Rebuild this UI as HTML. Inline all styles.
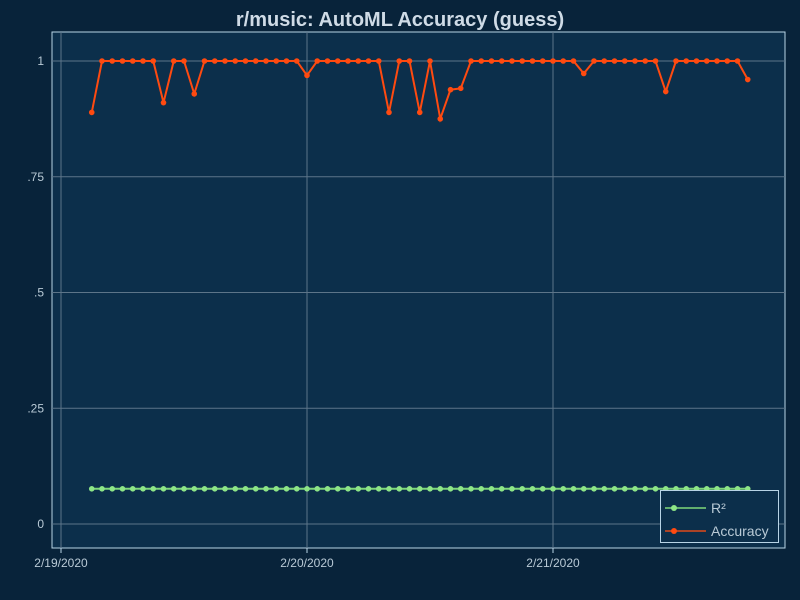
<!DOCTYPE html>
<html><head><meta charset="utf-8"><style>
body{margin:0;background:#08233a;}
svg{display:block;font-family:"Liberation Sans","DejaVu Sans",sans-serif;}
</style></head><body>
<svg id="c" width="800" height="600">
<rect width="800" height="600" fill="#08233a"/>
<text x="400" y="26" text-anchor="middle" font-size="20" font-weight="bold" fill="#cfdbe6">r/music: AutoML Accuracy (guess)</text>
<rect x="52" y="32" width="733" height="516" fill="#0c2f4b" stroke="#b8d4e6" stroke-width="1"/>
<g id="grid"></g><g id="series"></g>
<g>
<rect x="660.5" y="490.5" width="118" height="52" fill="#0c2f4b" stroke="#b8d4e6"/>
<line x1="665" y1="508" x2="706" y2="508" stroke="#7fd87a" stroke-width="1.5"/>
<circle cx="674" cy="508" r="3" fill="#8ee687"/>
<text x="711" y="513" font-size="14" fill="#b9cad6">R²</text>
<line x1="665" y1="531" x2="706" y2="531" stroke="#e04a1a" stroke-width="1.5"/>
<circle cx="674" cy="531" r="3" fill="#ff4a10"/>
<text x="711" y="536" font-size="14" fill="#b9cad6">Accuracy</text>
</g>
</svg>
<script>
const startHour = 3;
const accuracy = [0.889,1,1,1,1,1,1,0.91,1,1,0.929,1,1,1,1,1,1,1,1,1,1,0.969,1,1,1,1,1,1,1,0.889,1,1,0.889,1,0.875,0.938,0.941,1,1,1,1,1,1,1,1,1,1,1,0.973,1,1,1,1,1,1,1,0.934,1,1,1,1,1,1,1,0.96];
const r2 = accuracy.map(()=>0.076);
const yTicks = [0,0.25,0.5,0.75,1];
const yTickLabels = ["0",".25",".5",".75","1"];
const xTickDays = [0,1,2];
const xTickLabels = ["2/19/2020","2/20/2020","2/21/2020"];
const NS="http://www.w3.org/2000/svg";
const xS = h => 61 + h*10.25;
const yS = v => 524 - v*463;
const grid=document.getElementById('grid'), ser=document.getElementById('series');
function mk(tag,attrs,parent){const e=document.createElementNS(NS,tag);for(const k in attrs)e.setAttribute(k,attrs[k]);parent.appendChild(e);return e;}
yTicks.forEach((v,i)=>{
  const l=mk('line',{x1:52,x2:785,y1:yS(v),y2:yS(v),stroke:'#5d7589','stroke-width':1},grid);
  
  
  const t=mk('text',{x:44,y:yS(v)+4,'text-anchor':'end','font-size':12,fill:'#b9cad6'},grid);
  t.textContent=yTickLabels[i];
  
  
});
xTickDays.forEach((d,i)=>{
  const x=xS(d*24);
  const l=mk('line',{x1:x,x2:x,y1:32,y2:548,stroke:'#5d7589','stroke-width':1},grid);
  
  
  mk('line',{x1:x,x2:x,y1:548,y2:553,stroke:'#b8d4e6'},grid);
  const t=mk('text',{x:x,y:567,'text-anchor':'middle','font-size':12,fill:'#b9cad6'},grid);
  t.textContent=xTickLabels[i];
  
  
});
function draw(vals,lineColor,dotColor,name){
  const pts=vals.map((v,i)=>xS(startHour+i)+','+yS(v)).join(' ');
  const pl=mk('polyline',{points:pts,fill:'none',stroke:lineColor,'stroke-width':2},ser);
  
  
  vals.forEach((v,i)=>{
    const c=mk('circle',{cx:xS(startHour+i),cy:yS(v),r:2.8,fill:dotColor},ser);
    
    
  });
}
draw(r2,'#7fd87a','#8ee687','r2');
draw(accuracy,'#ff4a10','#ff4a10','accuracy');
</script>
</body></html>
